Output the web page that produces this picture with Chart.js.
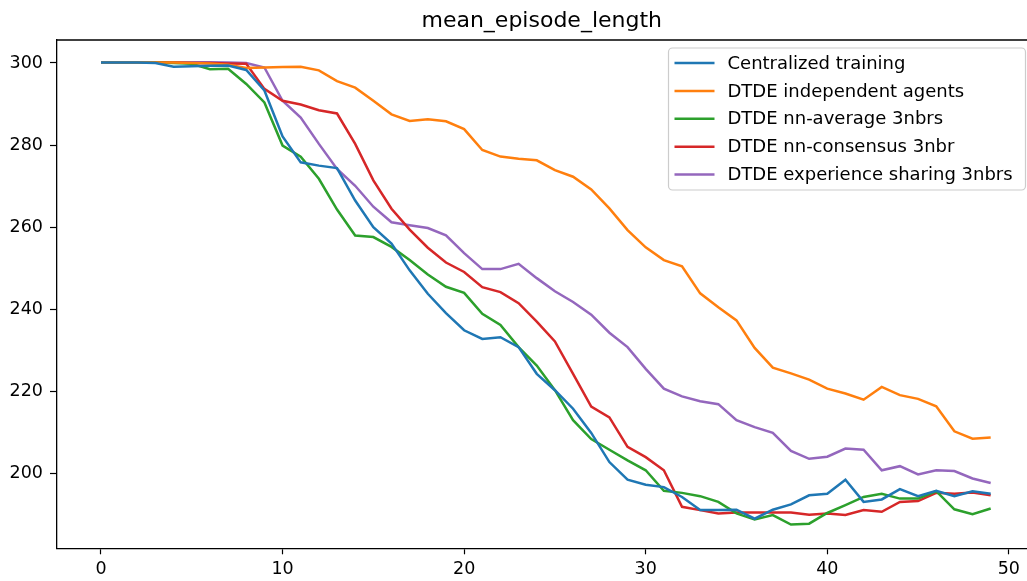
<!DOCTYPE html>
<html>
<head>
<meta charset="utf-8">
<script src="https://cdn.jsdelivr.net/npm/chart.js@4/dist/chart.umd.min.js"></script>
<style>
  html, body { margin: 0; padding: 0; background: #fff; }
  #wrap { width: 1027px; height: 581px; }
</style>
</head>
<body>
<div id="wrap"><canvas id="myChart" width="1027" height="581"></canvas></div>
<script>
// episode index (x axis)
const episodes = [0, 1, 2, 3, 4, 5, 6, 7, 8, 9, 10, 11, 12, 13, 14, 15, 16, 17, 18, 19,
    20, 21, 22, 23, 24, 25, 26, 27, 28, 29, 30, 31, 32, 33, 34, 35, 36, 37, 38, 39,
    40, 41, 42, 43, 44, 45, 46, 47, 48, 49];

// mean episode length per run
const centralized = [300.1, 300.1, 300.1, 300.0, 299.1, 299.2, 299.3, 299.4, 298.3, 293.3,
    282.1, 275.8, 275.0, 274.4, 266.5, 260.0, 256.0, 249.5, 243.8, 239.1,
    234.9, 232.8, 233.2, 230.8, 224.3, 220.3, 215.8, 209.9, 202.8, 198.5,
    197.3, 196.7, 194.3, 191.1, 191.1, 191.2, 189.0, 191.2, 192.5, 194.7,
    195.1, 198.5, 193.1, 193.7, 196.2, 194.5, 195.8, 194.5, 195.7, 195.1];
const independent = [300.1, 300.1, 300.1, 300.1, 300.1, 300.0, 299.9, 299.6, 298.8, 298.9,
    299.0, 299.1, 298.2, 295.6, 294.0, 290.8, 287.5, 285.9, 286.3, 285.8,
    283.9, 278.8, 277.2, 276.7, 276.3, 273.9, 272.3, 269.2, 264.6, 259.3,
    255.1, 252.0, 250.5, 243.9, 240.5, 237.3, 230.6, 225.8, 224.4, 222.9,
    220.7, 219.5, 218.0, 221.1, 219.1, 218.2, 216.4, 210.3, 208.5, 208.8];
const nnAverage = [300.1, 300.1, 300.1, 300.1, 300.0, 299.8, 298.5, 298.6, 294.9, 290.4,
    279.9, 277.2, 271.8, 264.3, 258.0, 257.6, 255.2, 252.0, 248.5, 245.5,
    244.0, 238.9, 236.2, 230.8, 226.3, 220.3, 213.0, 208.4, 205.8, 203.2,
    200.8, 195.8, 195.3, 194.5, 193.1, 190.3, 188.8, 189.9, 187.6, 187.8,
    190.4, 192.3, 194.3, 195.1, 193.9, 193.9, 195.7, 191.3, 190.1, 191.5];
const nnConsensus = [300.1, 300.1, 300.1, 300.1, 300.1, 300.0, 300.0, 299.9, 299.8, 293.7,
    290.8, 289.9, 288.5, 287.7, 280.3, 271.4, 264.5, 259.4, 255.0, 251.4,
    249.1, 245.4, 244.2, 241.5, 237.0, 232.2, 224.3, 216.3, 213.7, 206.5,
    204.0, 200.8, 191.9, 191.1, 190.3, 190.5, 190.5, 190.5, 190.5, 190.0,
    190.3, 189.9, 191.1, 190.7, 193.1, 193.3, 195.3, 195.1, 195.4, 194.7];
const expSharing = [300.2, 300.2, 300.2, 300.2, 300.2, 300.2, 300.2, 300.1, 300.0, 298.9,
    290.8, 286.7, 280.3, 274.2, 270.1, 265.0, 261.2, 260.5, 259.8, 258.0,
    253.7, 249.8, 249.8, 251.1, 247.6, 244.4, 241.8, 238.7, 234.3, 230.8,
    225.5, 220.7, 218.8, 217.6, 216.9, 213.0, 211.3, 209.9, 205.5, 203.6,
    204.1, 206.1, 205.8, 200.8, 201.8, 199.8, 200.8, 200.6, 198.8, 197.7];

const seriesNames = [
    'Centralized training',
    'DTDE independent agents',
    'DTDE nn-average 3nbrs',
    'DTDE nn-consensus 3nbr',
    'DTDE experience sharing 3nbrs',
];
const seriesValues = [centralized, independent, nnAverage, nnConsensus, expSharing];

// matplotlib tab10
const lineColors = ['#1f77b4', '#ff7f0e', '#2ca02c', '#d62728', '#9467bd'];

const FONT = "'DejaVu Sans', 'Liberation Sans', sans-serif";

// top spine + matplotlib-like legend box inside the axes
const axesFrame = {
    id: 'axesFrame',
    afterDraw(chart) {
        const { ctx, chartArea } = chart;
        ctx.save();
        ctx.strokeStyle = '#000';
        ctx.lineWidth = 1.3;
        ctx.beginPath();
        ctx.moveTo(chartArea.left, chartArea.top);
        ctx.lineTo(chartArea.right, chartArea.top);
        ctx.stroke();

        // legend
        const rowH = 27.9;
        const boxW = 357;
        const boxH = 142;
        const bx = chartArea.right - boxW - 1.5;
        const by = chartArea.top + 8;
        ctx.fillStyle = 'rgba(255,255,255,0.8)';
        ctx.strokeStyle = '#cccccc';
        ctx.lineWidth = 1.2;
        ctx.beginPath();
        ctx.roundRect(bx, by, boxW, boxH, 4);
        ctx.fill();
        ctx.stroke();

        ctx.font = '18px ' + FONT;
        ctx.textBaseline = 'middle';
        ctx.textAlign = 'left';
        chart.data.datasets.forEach((ds, i) => {
            const y = by + 15 + i * rowH;
            ctx.strokeStyle = ds.borderColor;
            ctx.lineWidth = 2.5;
            ctx.beginPath();
            ctx.moveTo(bx + 6, y);
            ctx.lineTo(bx + 46, y);
            ctx.stroke();
            ctx.fillStyle = '#000';
            ctx.fillText(ds.label, bx + 59, y + 1);
        });
        ctx.restore();
    },
};

function createChart() {
    const ctx = document.getElementById('myChart').getContext('2d');
    new Chart(ctx, {
        type: 'line',
        data: {
            datasets: seriesNames.map((name, index) => ({
                label: name,
                data: episodes.map((ep, k) => ({ x: ep, y: seriesValues[index][k] })),
                borderColor: lineColors[index],
                backgroundColor: lineColors[index],
                borderWidth: 2.5,
                pointRadius: 0,
                tension: 0,
                fill: false,
            })),
        },
        options: {
            responsive: false,
            animation: false,
            layout: { padding: 0 },
            plugins: {
                legend: { display: false },
                tooltip: { enabled: false },
                title: {
                    display: true,
                    text: 'mean_episode_length',
                    fullSize: false,
                    color: '#000',
                    font: { family: FONT, size: 22, weight: 'normal' },
                    padding: { top: 8, bottom: 5.6 },
                },
            },
            scales: {
                x: {
                    type: 'linear',
                    min: -2.45,
                    max: 51.0,
                    afterFit: (scale) => { scale.height = 32.7; },
                    grid: { drawOnChartArea: false, drawTicks: true, tickLength: 6, color: '#000', tickWidth: 1.2 },
                    border: { display: true, color: '#000', width: 1.3 },
                    ticks: {
                        stepSize: 10,
                        includeBounds: false,
                        color: '#000',
                        padding: 5,
                        maxRotation: 0,
                        font: { family: FONT, size: 17.5 },
                    },
                },
                y: {
                    min: 181.8,
                    max: 305.6,
                    afterFit: (scale) => { scale.width = 56.5; },
                    grid: { drawOnChartArea: false, drawTicks: true, tickLength: 6.5, color: '#000', tickWidth: 1.2 },
                    border: { display: true, color: '#000', width: 1.3 },
                    ticks: {
                        stepSize: 20,
                        includeBounds: false,
                        color: '#000',
                        padding: 7,
                        font: { family: FONT, size: 17.5 },
                    },
                },
            },
        },
        plugins: [axesFrame],
    });
}

createChart();
</script>
</body>
</html>
